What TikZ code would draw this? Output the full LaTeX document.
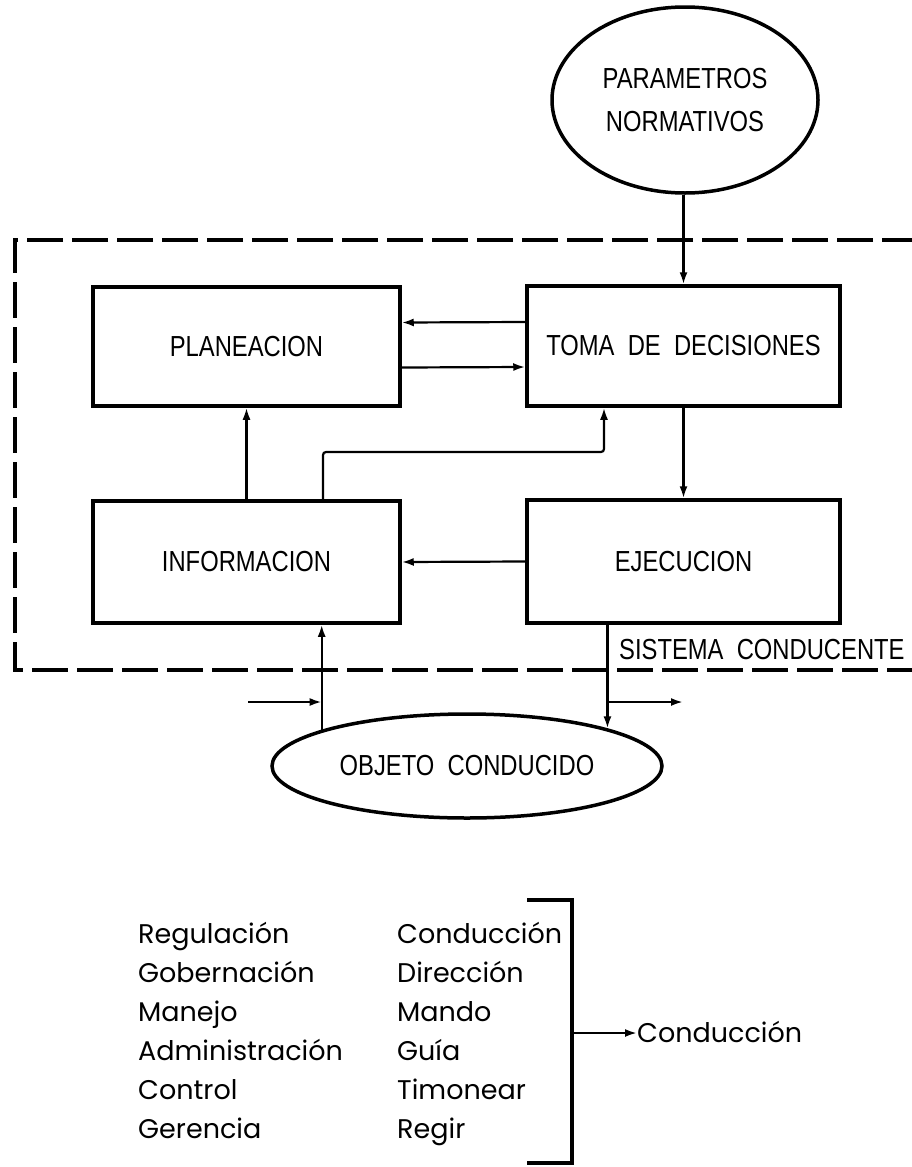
\documentclass[tikz,border=0pt]{standalone}
\usepackage{fontspec}
\setmainfont{Liberation Sans}
\newfontfamily\lblfont[FakeStretch=0.82]{Liberation Sans}
\newfontfamily\lstfont{Poppins}
\usetikzlibrary{shapes.geometric,arrows.meta,calc}
\begin{document}
\begin{tikzpicture}[x=1pt,y=-1pt,
  lbl/.style={font=\lblfont\fontsize{29}{43}\selectfont},
  boxnode/.style={draw,line width=3.5pt,inner sep=0pt,lbl},
  ellnode/.style={draw,ellipse,line width=3.5pt,inner sep=0pt,lbl,align=center},
  conn/.style={line width=2.2pt,-{Latex[length=12pt,width=8pt]}},
  dashframe/.style={line width=4.5pt,dash pattern=on 36pt off 9pt},
  lst/.style={font=\lstfont\fontsize{27}{30}\selectfont,anchor=base west,inner sep=0pt}]
\fill[white] (0,0) rectangle (912,1167);
\useasboundingbox (0,0) rectangle (912,1167);

% dashed frame (right side lies beyond the picture)
\draw[dashframe] (918,240) -- (15,240) -- (15,670) -- (918,670);

% nodes
\node[ellnode,minimum width=266pt,minimum height=186pt] (pn) at (685,100) {PARAMETROS\\NORMATIVOS};
\node[boxnode,minimum width=307pt,minimum height=119pt] (plan) at (246.5,346.5) {PLANEACION};
\node[boxnode,minimum width=313pt,minimum height=120pt] (toma) at (683.5,346) {TOMA \ DE \ DECISIONES};
\node[boxnode,minimum width=307pt,minimum height=122pt] (info) at (246.5,562) {INFORMACION};
\node[boxnode,minimum width=313pt,minimum height=123pt] (ejec) at (683.5,561.5) {EJECUCION};
\node[ellnode,minimum width=390pt,minimum height=104pt] (obj) at (467,766) {OBJETO \ CONDUCIDO};
\node[lbl,anchor=base west,inner sep=0pt] (sis) at (619,659) {SISTEMA \ CONDUCENTE};

% connectors
\draw[conn] (toma.north |- pn.south) -- (toma.north);
\draw[conn] ([yshift=24pt]toma.west) -- ([yshift=24pt]plan.east);
\draw[conn] ([yshift=-21pt]plan.east) -- ([yshift=-21pt]toma.west);
\draw[conn] (info.north) -- (plan.south);
\coordinate (c1) at (450,452);
\draw[conn,rounded corners=3pt] ([xshift=76.5pt]info.north) |- (c1) -| ([xshift=-79.5pt]toma.south);
\draw[conn] (toma.south) -- (ejec.north);
\draw[conn] (ejec.west) -- (info.east);
\draw[conn] (obj.166) -- (obj.166 |- info.south);
\draw[conn] (obj.15 |- ejec.south) -- (obj.15);
\coordinate (inL) at (248,702);
\draw[conn] (inL) -- (inL -| obj.166);
\coordinate (outR) at (683,702);
\draw[conn] (outR -| obj.15) -- (outR);

% word list
\node[lst] (a1) at (138,943) {Regulación};
\node[lst] (a2) at (138,982) {Gobernación};
\node[lst] (a3) at (138,1021) {Manejo};
\node[lst] (a4) at (138,1060) {Administración};
\node[lst] (a5) at (138,1099) {Control};
\node[lst] (a6) at (138,1138) {Gerencia};
\node[lst] (b1) at (397,943) {Conducción};
\node[lst] (b2) at (397,982) {Dirección};
\node[lst] (b3) at (397,1021) {Mando};
\node[lst] (b4) at (397,1060) {Guía};
\node[lst] (b5) at (397,1099) {Timonear};
\node[lst] (b6) at (397,1138) {Regir};

% bracket
\coordinate (bt) at (527,900);
\coordinate (bb) at (527,1163);
\draw[line width=3.5pt] (bt) -- ++(45,0) -- ++(0,263) -- (bb);
\coordinate (bm) at (572,1033);
\node[lst] (cond) at (637,1042) {Conducción};
\draw[conn] (bm) -- (bm -| cond.west);
\end{tikzpicture}
\end{document}
